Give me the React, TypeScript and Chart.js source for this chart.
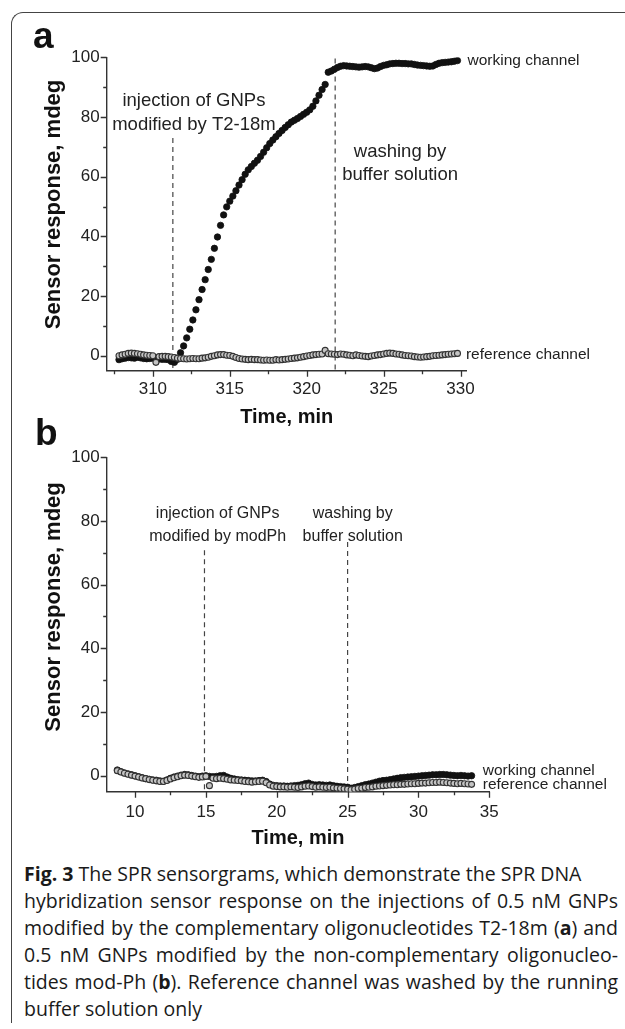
import React, { useEffect, useRef } from "react";
import { Chart, registerables } from "chart.js";

Chart.register(...registerables);

// ---------- Panel a data ----------
const timeA = [
  307.8, 308, 308.2, 308.4, 308.6, 308.8, 309, 309.2, 309.4, 309.6,
  309.8, 310, 310.2, 310.4, 310.6, 310.8, 311, 311.2, 311.4, 311.6,
  311.8, 312, 312.2, 312.4, 312.6, 312.8, 313, 313.2, 313.4, 313.6,
  313.8, 314, 314.2, 314.4, 314.6, 314.8, 315, 315.2, 315.4, 315.6,
  315.8, 316, 316.2, 316.4, 316.6, 316.8, 317, 317.2, 317.4, 317.6,
  317.8, 318, 318.2, 318.4, 318.6, 318.8, 319, 319.2, 319.4, 319.6,
  319.8, 320, 320.2, 320.4, 320.6, 320.8, 321, 321.2, 321.4, 321.6,
  321.8, 322, 322.2, 322.4, 322.6, 322.8, 323, 323.2, 323.4, 323.6,
  323.8, 324, 324.2, 324.4, 324.6, 324.8, 325, 325.2, 325.4, 325.6,
  325.8, 326, 326.2, 326.4, 326.6, 326.8, 327, 327.2, 327.4, 327.6,
  327.8, 328, 328.2, 328.4, 328.6, 328.8, 329, 329.2, 329.4, 329.6,
  329.8,
];
const workingA = [
  -1.3, -1.0, -0.8, -0.6, -0.7, -0.8, -0.5, -0.7, -0.9, -1.0,
  -0.9, -0.8, -1.0, -1.1, -1.2, -1.2, -1.3, -1.9, -2.2, -1.2,
  1.0, 3.3, 6.0, 8.9, 12.0, 15.4, 18.8, 22.2, 25.5, 28.9,
  32.3, 36.0, 39.8, 43.7, 47.2, 49.9, 51.8, 53.5, 55.3, 57.2,
  59.0, 60.8, 62.3, 63.4, 64.5, 65.5, 66.8, 68.2, 69.7, 71.1,
  72.3, 73.4, 74.5, 75.5, 76.5, 77.4, 78.3, 78.9, 79.5, 80.2,
  80.9, 81.6, 82.4, 83.6, 85.4, 87.3, 89.2, 90.9, 95.0, 95.4,
  96.0, 96.6, 97.0, 97.2, 97.1, 97.0, 96.9, 96.8, 96.7, 96.8,
  96.9, 96.8, 96.5, 96.2, 96.4, 96.9, 97.3, 97.5, 97.8, 97.9,
  98.0, 98.0, 97.9, 97.9, 97.8, 97.8, 97.6, 97.4, 97.3, 97.2,
  97.1, 97.0, 97.1, 97.6, 98.0, 98.2, 98.3, 98.4, 98.5, 98.7,
  98.9,
];
const referenceA = [
  0.0, 0.3, 0.5, 0.8, 0.9, 0.8, 0.7, 0.5, 0.3, 0.2,
  0.1, 0.0, -2.2, -0.3, -0.2, -0.2, -0.3, -0.4, -0.6, -0.8,
  -0.9, -1.0, -1.1, -1.0, -0.9, -1.0, -1.0, -0.8, -0.7, -0.5,
  -0.2, 0.0, 0.3, 0.4, 0.4, 0.2, 0.1, -0.2, -0.6, -0.9,
  -1.1, -1.2, -1.3, -1.2, -1.3, -1.3, -1.4, -1.5, -1.4, -1.5,
  -1.5, -1.3, -1.4, -1.3, -1.2, -1.1, -0.9, -0.8, -0.7, -0.5,
  -0.3, -0.1, 0.1, 0.3, 0.4, 0.5, 0.6, 1.8, 0.7, 0.6,
  0.5, 0.4, 0.6, 0.5, 0.3, 0.2, 0.0, 0.3, 0.1, -0.1,
  -0.2, -0.3, -0.1, 0.1, 0.3, 0.4, 0.6, 0.8, 0.9, 0.8,
  0.6, 0.5, 0.3, 0.1, 0.0, -0.1, -0.3, -0.4, -0.5, -0.4,
  -0.3, -0.2, 0.0, 0.1, 0.2, 0.3, 0.4, 0.5, 0.6, 0.7,
  0.8,
];
const xMajorA = [310, 315, 320, 325, 330];
const xMinorA = [307.5, 312.5, 317.5, 322.5, 327.5];
const eventTimesA = [311.3, 321.85];
const eventTopsA = [73, 99.6];

// ---------- Panel b data ----------
const timeB = [
  8.75, 9, 9.25, 9.5, 9.75, 10, 10.25, 10.5, 10.75, 11,
  11.25, 11.5, 11.75, 12, 12.25, 12.5, 12.75, 13, 13.25, 13.5,
  13.75, 14, 14.25, 14.5, 14.75, 15, 15.25, 15.5, 15.75, 16,
  16.25, 16.5, 16.75, 17, 17.25, 17.5, 17.75, 18, 18.25, 18.5,
  18.75, 19, 19.25, 19.5, 19.75, 20, 20.25, 20.5, 20.75, 21,
  21.25, 21.5, 21.75, 22, 22.25, 22.5, 22.75, 23, 23.25, 23.5,
  23.75, 24, 24.25, 24.5, 24.75, 25, 25.25, 25.5, 25.75, 26,
  26.25, 26.5, 26.75, 27, 27.25, 27.5, 27.75, 28, 28.25, 28.5,
  28.75, 29, 29.25, 29.5, 29.75, 30, 30.25, 30.5, 30.75, 31,
  31.25, 31.5, 31.75, 32, 32.25, 32.5, 32.75, 33, 33.25, 33.5,
  33.75,
];
const workingB = [
  1.8, 1.3, 0.9, 0.6, 0.3, 0.0, -0.3, -0.6, -0.9, -1.1,
  -1.3, -1.4, -1.6, -1.7, -1.3, -0.8, -0.4, -0.1, 0.2, 0.4,
  0.3, 0.1, -0.1, -0.3, -0.1, 0.0, -0.2, -0.3, -0.2, 0.0,
  0.1, -0.4, -0.8, -1.0, -1.2, -1.3, -1.4, -1.5, -1.6, -1.6,
  -1.5, -1.4, -1.8, -2.6, -3.0, -3.1, -3.2, -3.2, -3.3, -3.2,
  -3.1, -3.0, -2.8, -2.5, -2.3, -2.7, -2.9, -2.8, -2.9, -3.0,
  -2.9, -3.1, -3.3, -3.4, -3.5, -3.6, -3.9, -3.7, -3.4, -3.1,
  -2.8, -2.6, -2.3, -2.0, -1.7, -1.5, -1.4, -1.2, -1.0, -0.8,
  -0.6, -0.5, -0.4, -0.3, -0.2, -0.1, 0.0, 0.1, 0.2, 0.3,
  0.3, 0.4, 0.4, 0.3, 0.2, 0.1, 0.0, 0.1, 0.0, -0.1,
  0.0,
];
const referenceB = [
  1.6, 1.2, 0.8, 0.5, 0.2, -0.1, -0.4, -0.7, -0.9, -1.2,
  -1.4, -1.6, -1.8, -1.8, -1.5, -1.0, -0.6, -0.3, 0.0, 0.2,
  0.1, -0.1, -0.3, -0.5, -0.4, -0.2, -3.1, -0.8, -0.9, -0.8,
  -0.9, -1.1, -1.3, -1.4, -1.5, -1.6, -1.8, -1.9, -2.0, -1.9,
  -1.8, -1.7, -2.2, -2.9, -3.3, -3.4, -3.5, -3.5, -3.6, -3.5,
  -3.6, -3.7, -3.5, -3.3, -3.2, -3.4, -3.6, -3.5, -3.6, -3.7,
  -3.6, -3.8, -3.9, -4.0, -4.1, -4.2, -4.4, -4.2, -4.0, -3.9,
  -3.7, -3.6, -3.5, -3.3, -3.2, -3.1, -3.0, -2.9, -2.8, -2.8,
  -2.7, -2.7, -2.6, -2.5, -2.5, -2.4, -2.3, -2.3, -2.2, -2.1,
  -2.1, -2.0, -2.1, -2.2, -2.3, -2.4, -2.5, -2.4, -2.5, -2.6,
  -2.7,
];
const xMajorB = [10, 15, 20, 25, 30, 35];
const xMinorB = [12.5, 17.5, 22.5, 27.5, 32.5];
const eventTimesB = [14.9, 25];
const eventTopsB = [70.8, 73.4];

// ---------- shared ----------
const yMajor = [0, 20, 40, 60, 80, 100];
const yMinor = [10, 30, 50, 70, 90];
const yTitle = "Sensor response, mdeg";
const xTitle = "Time, min";

const FONT = "'Liberation Sans', Arial, Helvetica, sans-serif";
const INK = "#222";

type Txt = { text: string; x: number; y: number; size: number; align: CanvasTextAlign };

const notesA: Txt[] = [
  { text: "injection of GNPs", x: 312.67, y: 85.4, size: 18.5, align: "center" },
  { text: "modified by T2-18m", x: 312.67, y: 77.3, size: 18.5, align: "center" },
  { text: "washing by", x: 326.07, y: 68.3, size: 18.5, align: "center" },
  { text: "buffer solution", x: 326.07, y: 60.5, size: 18.5, align: "center" },
  { text: "working channel", x: 330.45, y: 98.9, size: 15.5, align: "left" },
  { text: "reference channel", x: 330.35, y: 0.3, size: 15.5, align: "left" },
];
const notesB: Txt[] = [
  { text: "injection of GNPs", x: 15.83, y: 82.2, size: 16, align: "center" },
  { text: "modified by modPh", x: 15.83, y: 75.2, size: 16, align: "center" },
  { text: "washing by", x: 25.36, y: 82.2, size: 16, align: "center" },
  { text: "buffer solution", x: 25.36, y: 75.2, size: 16, align: "center" },
  { text: "working channel", x: 34.54, y: 1.6, size: 15.5, align: "left" },
  { text: "reference channel", x: 34.54, y: -2.8, size: 15.5, align: "left" },
];

const decorPlugin = {
  id: "decor",
  afterDraw(chart: any, _args: any, opts: any) {
    const { ctx } = chart;
    const xs = chart.scales.x;
    const ys = chart.scales.y;
    ctx.save();
    ctx.strokeStyle = "#333";
    ctx.lineWidth = 1.3;
    ctx.beginPath();
    const xt = (v: number, len: number) => {
      const p = Math.round(xs.getPixelForValue(v)) + 0.5;
      ctx.moveTo(p, xs.top);
      ctx.lineTo(p, xs.top + len);
    };
    const yt = (v: number, len: number) => {
      const p = Math.round(ys.getPixelForValue(v)) + 0.5;
      ctx.moveTo(ys.right, p);
      ctx.lineTo(ys.right - len, p);
    };
    opts.xMajor.forEach((v: number) => xt(v, 6));
    opts.xMinor.forEach((v: number) => xt(v, 3.5));
    yMajor.forEach((v) => yt(v, 6));
    yMinor.forEach((v) => yt(v, 3.5));
    ctx.stroke();

    ctx.fillStyle = INK;
    ctx.textBaseline = "middle";
    opts.notes.forEach((t: Txt) => {
      ctx.font = `${t.size}px ${FONT}`;
      ctx.textAlign = t.align;
      ctx.fillText(t.text, xs.getPixelForValue(t.x), ys.getPixelForValue(t.y));
    });

    ctx.save();
    ctx.translate(opts.yTitleX, ys.getPixelForValue(opts.yTitleAt));
    ctx.rotate(-Math.PI / 2);
    ctx.font = `bold 22px ${FONT}`;
    ctx.textAlign = "center";
    ctx.fillStyle = "#111";
    ctx.fillText(yTitle, 0, 0);
    ctx.restore();
    ctx.restore();
  },
};

function pts(xv: number[], yv: number[]) {
  return xv.map((x, i) => ({ x, y: yv[i] }));
}

function makeConfig(p: any) {
  const dashed = p.events.map((t: number, i: number) => ({
    type: "line",
    data: [
      { x: t, y: p.tops[i] },
      { x: t, y: -5 },
    ],
    showLine: true,
    borderColor: "#444",
    borderWidth: 1.2,
    borderDash: [5, 4],
    pointRadius: 0,
    fill: false,
    order: 3,
  }));
  return {
    type: "scatter",
    data: {
      datasets: [
        {
          label: "reference channel",
          data: pts(p.time, p.ref),
          pointRadius: 3.0,
          pointBackgroundColor: "#c4c4c4",
          pointBorderColor: "#333",
          pointBorderWidth: 1.1,
          order: 0,
        },
        {
          label: "working channel",
          data: pts(p.time, p.work),
          pointRadius: 3.2,
          pointBackgroundColor: "#111",
          pointBorderColor: "#111",
          pointBorderWidth: 0.8,
          order: 1,
        },
        ...dashed,
      ],
    },
    options: {
      animation: false,
      responsive: false,
      devicePixelRatio: 1,
      events: [],
      layout: { padding: p.padding },
      plugins: {
        legend: { display: false },
        tooltip: { enabled: false },
        decor: {
          xMajor: p.xMajor,
          xMinor: p.xMinor,
          notes: p.notes,
          yTitleX: 54,
          yTitleAt: p.yTitleAt,
        },
      },
      scales: {
        x: {
          type: "linear",
          min: p.xMin,
          max: p.xMax,
          afterBuildTicks: (s: any) => {
            s.ticks = p.xMajor.map((v: number) => ({ value: v }));
          },
          afterFit: (s: any) => {
            s.height = 60;
          },
          grid: { display: false, drawTicks: false },
          border: { display: true, color: "#333", width: 1.4 },
          ticks: {
            autoSkip: false,
            maxRotation: 0,
            padding: p.xPad,
            color: INK,
            font: { family: FONT, size: 17 },
          },
          title: {
            display: true,
            text: xTitle,
            color: "#111",
            font: { family: FONT, size: 20, weight: "bold" },
            padding: { top: 0, bottom: 1.7 },
          },
        },
        y: {
          type: "linear",
          min: -5,
          max: 100,
          afterBuildTicks: (s: any) => {
            s.ticks = yMajor.map((v) => ({ value: v }));
          },
          afterFit: (s: any) => {
            s.width = 106.7;
          },
          grid: { display: false, drawTicks: false },
          border: { display: true, color: "#333", width: 1.4 },
          ticks: {
            autoSkip: false,
            padding: 7,
            color: INK,
            font: { family: FONT, size: 17 },
          },
        },
      },
    },
    plugins: [decorPlugin],
  };
}

function Panel(props: { cfg: any; top: number; height: number }) {
  const ref = useRef<HTMLCanvasElement | null>(null);
  useEffect(() => {
    if (!ref.current) return;
    const chart = new Chart(ref.current, makeConfig(props.cfg) as any);
    return () => chart.destroy();
  }, []);
  return (
    <canvas
      ref={ref}
      width={625}
      height={props.height}
      style={{ position: "absolute", left: 0, top: props.top, width: 625, height: props.height }}
    />
  );
}

const cfgA = {
  time: timeA,
  work: workingA,
  ref: referenceA,
  events: eventTimesA,
  tops: eventTopsA,
  xMajor: xMajorA,
  xMinor: xMinorA,
  xMin: 307,
  xMax: 330.4,
  notes: notesA,
  yTitleAt: 50.7,
  xPad: 8.3,
  padding: { top: 57.3, right: 158.3, bottom: 9.3, left: 0 },
};
const cfgB = {
  time: timeB,
  work: workingB,
  ref: referenceB,
  events: eventTimesB,
  tops: eventTopsB,
  xMajor: xMajorB,
  xMinor: xMinorB,
  xMin: 8,
  xMax: 35,
  notes: notesB,
  yTitleAt: 53,
  xPad: 10.4,
  padding: { top: 12.3, right: 135.7, bottom: 8.3, left: 0 },
};

const capFont = "'Open Sans', 'Noto Sans', sans-serif";

export default function App() {
  const line = (top: number, justify: boolean, children: any) => (
    <div
      style={{
        position: "absolute",
        left: 24,
        top,
        width: justify ? 594 : 600,
        height: 27,
        lineHeight: "27px",
        fontFamily: capFont,
        fontSize: 19.5,
        color: "#1a1a1a",
        whiteSpace: "nowrap",
        textAlign: justify ? "justify" : "left",
        textAlignLast: justify ? "justify" : "left",
      } as any}
    >
      {children}
    </div>
  );
  return (
    <div
      style={{
        position: "absolute",
        left: 0,
        top: 0,
        width: 625,
        height: 1029,
        overflow: "hidden",
        background: "#fff",
      }}
    >
      <div
        style={{
          position: "absolute",
          left: 11,
          top: 12,
          width: 720,
          height: 1010,
          borderLeft: "1.5px solid #444",
          borderTop: "1.5px solid #444",
          borderTopLeftRadius: 12,
        }}
      />
      <Panel cfg={cfgA} top={0} height={440} />
      <Panel cfg={cfgB} top={440} height={420} />
      <div
        style={{
          position: "absolute",
          left: 33,
          top: 17,
          fontFamily: FONT,
          fontWeight: "bold",
          fontSize: 37,
          lineHeight: "37px",
          color: "#111",
        }}
      >
        a
      </div>
      <div
        style={{
          position: "absolute",
          left: 35,
          top: 414,
          fontFamily: FONT,
          fontWeight: "bold",
          fontSize: 37,
          lineHeight: "37px",
          color: "#111",
        }}
      >
        b
      </div>
      {line(859.5, false, <><b>Fig. 3</b> The SPR sensorgrams, which demonstrate the SPR DNA</>)}
      {line(886.5, true, <>hybridization sensor response on the injections of 0.5 nM GNPs</>)}
      {line(913.5, true, <>modified by the complementary oligonucleotides T2-18m (<b>a</b>) and</>)}
      {line(941, true, <>0.5 nM GNPs modified by the non-complementary oligonucleo-</>)}
      {line(968, true, <>tides mod-Ph (<b>b</b>). Reference channel was washed by the running</>)}
      {line(994.5, false, <>buffer solution only</>)}
    </div>
  );
}
